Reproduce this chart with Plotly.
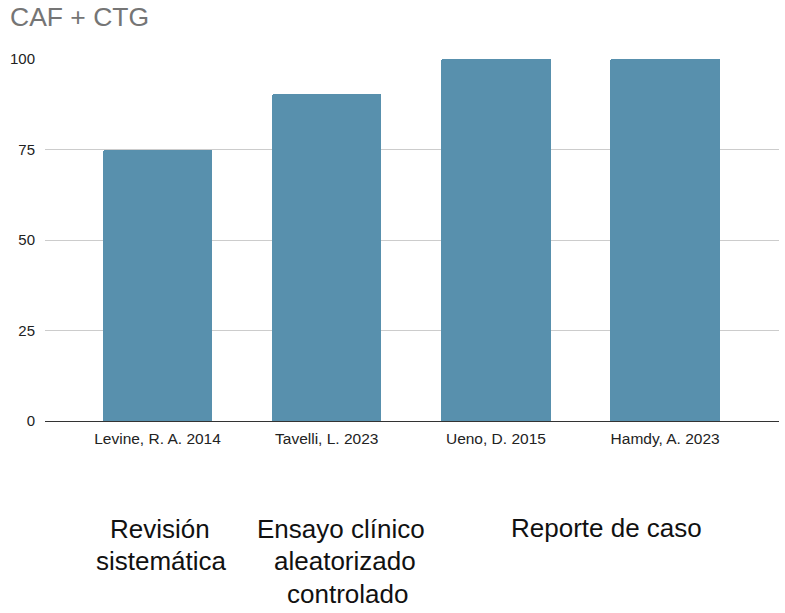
import plotly.graph_objects as go

# Data
categories = ["Levine, R. A. 2014", "Tavelli, L. 2023", "Ueno, D. 2015", "Hamdy, A. 2023"]
values = [75, 90.2, 100, 100]
y_ticks = [0, 25, 50, 75, 100]
title_text = "CAF + CTG"
group_lines = [
    # (text, x_px, baseline_px)
    ("Revisión", 160, 538),
    ("sistemática", 161, 570),
    ("Ensayo clínico", 341, 538),
    ("aleatorizado", 345, 570),
    ("controlado", 347.5, 603),
    ("Reporte de caso", 606, 537),
]

W, H = 785, 613
L, R, T, B = 45, 6, 59, 192
PW = W - L - R
PH = H - T - B
FONT = "Liberation Sans, Arial, sans-serif"
ANN_SIZE = 26

fig = go.Figure()
fig.add_trace(go.Bar(
    x=list(range(len(categories))),
    y=values,
    width=0.647,
    marker=dict(color="#5890ad", line=dict(width=0), cornerradius=2),
    hoverinfo="x+y",
))

annotations = []
for text, xp, base in group_lines:
    center_px = base - 0.36 * ANN_SIZE
    annotations.append(dict(
        text=text, showarrow=False,
        xref="paper", yref="paper",
        x=(xp - L) / PW, y=(H - B - center_px) / PH,
        xanchor="center", yanchor="middle",
        font=dict(family=FONT, size=ANN_SIZE, color="#111111"),
    ))

fig.update_layout(
    width=W, height=H,
    margin=dict(l=L, r=R, t=T, b=B, pad=0),
    paper_bgcolor="white", plot_bgcolor="white",
    showlegend=False,
    bargap=0,
    font=dict(family=FONT, color="#222222"),
    title=dict(
        text=title_text, x=10 / W, xanchor="left", xref="container",
        y=1 - 17 / H, yanchor="middle", yref="container",
        font=dict(family=FONT, size=26.5, color="#757575"),
    ),
    annotations=annotations,
    xaxis=dict(
        range=[-0.665, 3.673],
        tickmode="array", tickvals=list(range(len(categories))), ticktext=categories,
        showgrid=False, zeroline=False, showline=False,
        ticks="", tickfont=dict(family=FONT, size=15.5, color="#222222"),
        ticklabelstandoff=6,
        fixedrange=True,
    ),
    yaxis=dict(
        range=[0, 100],
        tickmode="array", tickvals=y_ticks,
        showgrid=True, gridcolor="#cccccc", gridwidth=1,
        zeroline=True, zerolinecolor="#333333", zerolinewidth=1.3,
        showline=False, ticks="",
        tickfont=dict(family=FONT, size=15, color="#222222"),
        ticklabelstandoff=9,
        fixedrange=True,
    ),
)

fig.write_html(
    "out.html",
    config={"displayModeBar": False},
    post_script="document.body.style.margin='0';document.body.style.overflow='hidden';",
)
